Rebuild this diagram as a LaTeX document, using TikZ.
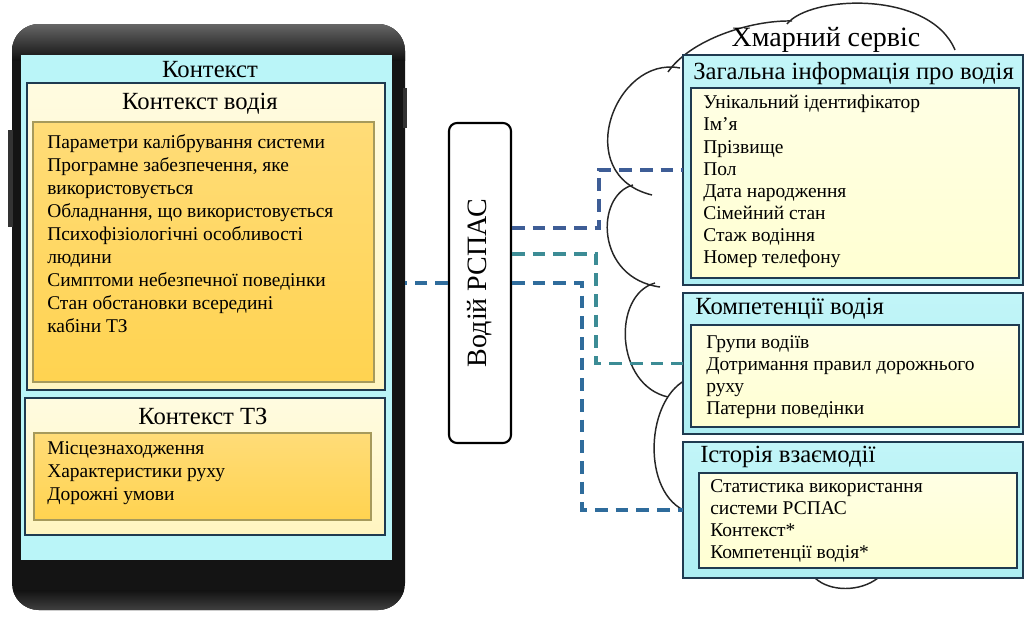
\documentclass[tikz,border=0pt]{standalone}
\usepackage{fontspec}
\setmainfont{Liberation Serif}
\usetikzlibrary{calc}
\definecolor{scr}{HTML}{BAF5F8}
\definecolor{navy}{HTML}{1F3A50}
\definecolor{paley}{HTML}{FFF5C0}
\definecolor{paletop}{HTML}{FFFBE0}
\definecolor{gold}{HTML}{FFD350}
\definecolor{goldtop}{HTML}{FFDC78}
\definecolor{olive}{HTML}{A69A5C}
\definecolor{cyanbox}{HTML}{ADEEF3}
\definecolor{cyantop}{HTML}{C2F5F8}
\definecolor{inny}{HTML}{FFFFD2}
\definecolor{innytop}{HTML}{FFFFE4}
\definecolor{dblue}{HTML}{2F6C9C}
\definecolor{dteal}{HTML}{3C8C95}
\definecolor{dnavy}{HTML}{3E5D96}
\newcommand\lstfont{\fontsize{14.6}{17.25}\selectfont}
\newcommand\rlstfont{\fontsize{14.6}{16.6}\selectfont}
\newcommand\ttlfont{\fontsize{18.5}{22}\selectfont}
\begin{document}
\begin{tikzpicture}[x=0.75pt,y=-0.75pt,
  box/.style={anchor=north west, inner sep=0pt, outer sep=0pt},
  outerL/.style={box, draw=navy, line width=1.6pt, top color=paletop, bottom color=paley},
  innerL/.style={box, draw=olive, line width=1pt, top color=goldtop, bottom color=gold},
  outerR/.style={box, draw=navy, line width=1.8pt, top color=cyantop, bottom color=cyanbox},
  innerR/.style={box, draw=navy, line width=1.4pt, top color=innytop, bottom color=inny},
  ttl/.style={font=\ttlfont, inner sep=0pt},
  lst/.style={font=\lstfont, align=left, anchor=north west, inner sep=0pt},
  rlst/.style={font=\rlstfont, align=left, anchor=north west, inner sep=0pt},
  dl/.style={line width=2.5pt, dash pattern=on 9.5pt off 6pt},
  cloudline/.style={line width=1.1pt, black!85}
]
\useasboundingbox (0,0) rectangle (1025,618);

% ---------- phone ----------
\node[box, fill=black!92, rounded corners=20pt, minimum width=393*0.75pt, minimum height=586*0.75pt] (phone) at (12,24) {};
\begin{scope}
  \clip[rounded corners=20pt] (12,24) rectangle (405,610);
  \shade[top color=black!60, bottom color=black!93] (12,24) rectangle (405,60);
  \shade[top color=black!93, bottom color=black!75] (12,590) rectangle (405,610);
\end{scope}
\fill[black!80] (8,130) rectangle (13,227);
\fill[black!80] (403,88) rectangle (407,128);
\node[box, fill=scr, minimum width=371*0.75pt, minimum height=505*0.75pt] (screen) at (21,55) {};
\node[font=\fontsize{18.5}{22}\selectfont, inner sep=0pt] (ctxlbl) at (210,70) {Контекст};

% driver context
\node[outerL, minimum width=358*0.75pt, minimum height=307*0.75pt] (ctxd) at (27,83) {};
\node[ttl] (ctxdt) at (200,104) {Контекст водія};
\node[innerL, minimum width=341*0.75pt, minimum height=260*0.75pt] (ctxdi) at (33,122) {};
\node[lst] (ctxdl) at (47,134) {Параметри калібрування системи\\Програмне забезпечення, яке\\використовується\\Обладнання, що використовується\\Психофізіологічні особливості\\людини\\Симптоми небезпечної поведінки\\Стан обстановки всередині\\кабіни ТЗ};

% vehicle context
\node[outerL, minimum width=360*0.75pt, minimum height=137*0.75pt] (ctxt) at (25,398) {};
\node[ttl] (ctxtt) at (203,416) {Контекст ТЗ};
\node[innerL, minimum width=337*0.75pt, minimum height=87*0.75pt] (ctxti) at (34,433) {};
\node[lst] (ctxtl) at (47,441) {Місцезнаходження\\Характеристики руху\\Дорожні умови};

% ---------- driver ----------
\node[draw, line width=1.6pt, rounded corners=6pt, fill=white, minimum width=62*0.75pt, minimum height=320*0.75pt, inner sep=0pt] (driver) at (480,283) {};
\node[rotate=90, font=\fontsize{21}{25}\selectfont, inner sep=0pt] (drvtxt) at (driver.center) {Водій РСПАС};

% ---------- cloud ----------
\draw[cloudline] (787,24) .. controls (810,-5) and (930,-10) .. (955,50);
\draw[cloudline] (668,72) .. controls (690,40) and (750,20) .. (792,21);
\draw[cloudline] (680,68) .. controls (615,55) and (570,175) .. (652,195);
\draw[cloudline] (633,185) .. controls (595,195) and (595,278) .. (660,287);
\draw[cloudline] (655,283) .. controls (612,295) and (615,385) .. (668,397);
\draw[cloudline] (690,378) .. controls (645,395) and (640,495) .. (688,512);
\draw[cloudline] (815,578) .. controls (830,592) and (860,592) .. (878,578);
\node[font=\fontsize{21}{25}\selectfont, inner sep=0pt] (cloudlbl) at (826,40) {Хмарний сервіс};

% ---------- right boxes ----------
\node[outerR, minimum width=340*0.75pt, minimum height=230*0.75pt] (gen) at (683,55) {};
\node[ttl, anchor=west] (gent) at (693,74) {Загальна інформація про водія};
\node[innerR, minimum width=328*0.75pt, minimum height=190*0.75pt] (geni) at (691,88) {};
\node[rlst] (genl) at (703,95) {Унікальний ідентифікатор\\Ім’я\\Прізвище\\Пол\\Дата народження\\Сімейний стан\\Стаж водіння\\Номер телефону};

\node[outerR, minimum width=340*0.75pt, minimum height=141*0.75pt] (comp) at (683,293) {};
\node[ttl, anchor=west] (compt) at (695,309) {Компетенції водія};
\node[innerR, minimum width=328*0.75pt, minimum height=102*0.75pt] (compi) at (691,325) {};
\node[rlst] (compl) at (706,335) {Групи водіїв\\Дотримання правил дорожнього\\руху\\Патерни поведінки};

\node[outerR, minimum width=340*0.75pt, minimum height=136*0.75pt] (hist) at (683,442) {};
\node[ttl, anchor=west] (histt) at (700,457) {Історія взаємодії};
\node[innerR, minimum width=318*0.75pt, minimum height=95*0.75pt] (histi) at (699,473) {};
\node[rlst] (histl) at (710,479) {Статистика використання\\системи РСПАС\\Контекст*\\Компетенції водія*};

% ---------- connectors ----------
\draw[dl, dblue] (driver.west) -- (driver.west -| phone.east);
\draw[dl, dblue] (driver.east) -| ($(hist.west)+(-101,0)$) -- (hist.west);
\draw[dl, dnavy] ($(driver.east)+(0,-55)$) -| ($(gen.west)+(-84,0)$) -- (gen.west);
\draw[dl, dteal] ($(driver.east)+(0,-29)$) -| ($(comp.west)+(-87,0)$) -- (comp.west);
\end{tikzpicture}
\end{document}
